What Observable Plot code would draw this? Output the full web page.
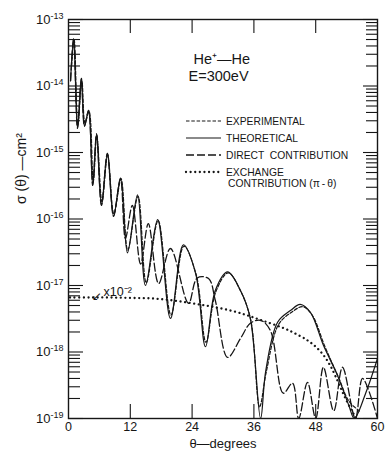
<!DOCTYPE html>
<html><head><meta charset="utf-8">
<script src="https://cdn.jsdelivr.net/npm/d3@7"></script>
<script src="https://cdn.jsdelivr.net/npm/@observablehq/plot@0.6"></script>
<style>
html,body{margin:0;padding:0;background:#fff;}
#wrap{position:relative;width:386px;height:458px;font-family:"Liberation Sans",Arial,sans-serif;}
#wrap svg{display:block;}
#legend{position:absolute;left:0;top:0;pointer-events:none;}
</style></head><body><div id="wrap"></div>
<script>
// Theoretical (solid)
const thetaTheo = [0.4,1.0,1.75,2.5,3.1,3.9,4.7,5.45,6.4,7.55,8.75,10.1,11.45,13.4,14.95,17.3,19.8,22.3,24.7,26.6,28.5,30.9,33.4,35.3,37.3,38.3,40.6,43.1,45.0,47.0,49.5,52.2,54.4,55.5,57.7,60];
const sigmaTheo = [1.2e-14,5.2e-14,2.3e-15,1.3e-14,2.5e-15,4.3e-15,3.2e-16,1.9e-15,1.6e-16,9.7e-16,1.1e-16,4.1e-16,3.1e-17,2.3e-16,1.0e-17,9.8e-17,3.2e-18,4.1e-17,1.5e-17,1.2e-18,8.4e-18,1.6e-17,8.4e-18,3.2e-18,1e-19,5.2e-19,2.8e-18,4.2e-18,5.2e-18,3.9e-18,1.26e-18,4.5e-19,1.6e-19,1e-19,2.4e-19,8e-19];
// Experimental (short dashes)
const thetaExp = [0.6,1.1,1.8,2.6,3.2,4.0,4.8,5.5,6.5,7.6,8.8,10.2,11.5,13.5,15.1,17.4,19.9,22.4,24.8,26.7,28.6,31.0,33.5,35.4,37.1,38.4,40.8,43.4,45.5,47.3,49.8,52.4,54.5,56.5];
const sigmaExp = [2.0e-14,5.0e-14,2.6e-15,1.2e-14,2.8e-15,4.1e-15,3.6e-16,1.8e-15,1.8e-16,9.2e-16,1.2e-16,4.0e-16,3.4e-17,2.2e-16,1.1e-17,9.5e-17,3.6e-18,3.9e-17,1.45e-17,1.4e-18,8.0e-18,1.55e-17,8.0e-18,3.0e-18,1.5e-19,5.0e-19,2.6e-18,4.0e-18,4.8e-18,3.6e-18,1.2e-18,4.2e-19,1.8e-19,1.3e-19];
// Direct contribution (long dashes)
const thetaDirect = [0.4,1.0,1.75,2.5,3.1,3.9,4.7,5.45,6.4,7.55,8.75,10.1,11.05,12.4,14.0,15.5,17.5,19.8,23.3,25.0,27.2,28.5,30.9,33.4,35.3,37.3,39.2,41.7,43.5,44.7,46.4,48.0,49.5,51.5,53.2,55.7,57.1,60];
const sigmaDirect = [1.2e-14,5.2e-14,2.3e-15,1.3e-14,2.5e-15,4.3e-15,3.2e-16,1.9e-15,1.6e-16,9.7e-16,1.1e-16,4.1e-16,5.1e-17,1.6e-16,2.1e-17,8.5e-17,1.07e-17,3.6e-17,5.4e-18,1.3e-17,1.27e-17,6e-18,8.3e-19,1.6e-18,2.7e-18,3e-18,2.1e-18,2.4e-19,3.4e-19,1e-19,3.5e-19,1e-19,5.9e-19,1.3e-19,5.9e-19,1e-19,4e-19,1e-19];
// Exchange contribution (dotted, x10^-2)
const thetaExch = [0.3,4,8,12,16,20,24,28,32,35,38,41.7,44,46.4,48,49.5,50.7,51.8,53.2,54.8,55.9];
const sigmaExch = [6.6e-18,6.6e-18,6.6e-18,6.5e-18,6.4e-18,6.0e-18,5.4e-18,4.8e-18,4.1e-18,3.5e-18,2.9e-18,2.3e-18,1.9e-18,1.5e-18,1.2e-18,9e-19,6.5e-19,4.4e-19,2.5e-19,1.4e-19,1e-19];

const xTickLabels = [0,12,24,36,48,60];
const xInnerTicks = [12,24,36,48];
const decadeExps = [-19,-18,-17,-16,-15,-14,-13];
const legendLabels = ["EXPERIMENTAL","THEORETICAL","DIRECT  CONTRIBUTION","EXCHANGE","CONTRIBUTION (\u03c0\u2009-\u2009\u03b8)"];

const zip = (t, s) => t.map((v, i) => ({theta: v, sigma: s[i]}));
const theo = zip(thetaTheo, sigmaTheo);
const expt = zip(thetaExp, sigmaExp);
const direct = zip(thetaDirect, sigmaDirect);
const exch = zip(thetaExch, sigmaExch);

const decades = decadeExps.map(e => Math.pow(10, e));
const minors = [];
for (let e = -19; e < -13; e++) for (let m = 2; m <= 9; m++) minors.push(m * Math.pow(10, e));

const ink = "#161616";
const noText = () => "";
const plot = Plot.plot({
  width: 386, height: 458,
  marginLeft: 68, marginRight: 9, marginTop: 19, marginBottom: 40,
  style: {fontFamily: "Liberation Sans, Arial, sans-serif", background: "#fff", color: ink, overflow: "visible"},
  x: {domain: [0, 60]},
  y: {type: "log", domain: [1e-19, 1e-13]},
  marks: [
    // inner ticks
    Plot.axisY(decades, {anchor: "left", tickSize: 15, dx: 15, tickFormat: noText, label: null, strokeWidth: 1.1}),
    Plot.axisY(minors, {anchor: "left", tickSize: 12, dx: 12, tickFormat: noText, label: null, strokeWidth: 1.1}),
    Plot.axisY(decades, {anchor: "right", tickSize: 15, dx: -15, tickFormat: noText, label: null, strokeWidth: 1.1}),
    Plot.axisY(minors, {anchor: "right", tickSize: 12, dx: -12, tickFormat: noText, label: null, strokeWidth: 1.1}),
    Plot.axisX(xInnerTicks, {anchor: "bottom", tickSize: 14, dy: -14, tickFormat: noText, label: null, strokeWidth: 1.1}),
    Plot.axisX(xInnerTicks, {anchor: "top", tickSize: 13, dy: 13, tickFormat: noText, label: null, strokeWidth: 1.1}),
    // tick labels
    Plot.axisY(decades, {anchor: "left", tickSize: 0, tickPadding: 5, fontSize: 13, label: null,
      tickFormat: d => "10^" + Math.round(Math.log10(d))}),
    Plot.axisX(xTickLabels, {anchor: "bottom", tickSize: 0, tickPadding: 4, fontSize: 12.5, label: null, tickFormat: d => String(d)}),
    // curves
    Plot.line(exch, {x: "theta", y: "sigma", curve: "catmull-rom", stroke: ink, strokeWidth: 2.3,
      strokeLinecap: "round", strokeDasharray: "0.01,4.6", clip: true}),
    Plot.line(direct, {x: "theta", y: "sigma", curve: "catmull-rom", stroke: ink, strokeWidth: 1.3,
      strokeDasharray: "8,3", clip: true}),
    Plot.line(expt, {x: "theta", y: "sigma", curve: "catmull-rom", stroke: ink, strokeWidth: 1.2,
      strokeDasharray: "3.5,1.8", clip: true}),
    Plot.line(theo, {x: "theta", y: "sigma", curve: "catmull-rom", stroke: ink, strokeWidth: 1.2, clip: true}),
    Plot.frame({stroke: ink, strokeWidth: 1.4}),
    // texts
    Plot.text(["He\u207a\u2014He"], {frameAnchor: "top-left", dx: 125, dy: 34, textAnchor: "start", fontSize: 14.5}),
    Plot.text(["E=300eV"], {frameAnchor: "top-left", dx: 120, dy: 51, textAnchor: "start", fontSize: 14.5}),
    Plot.text(["x10\u207b\u00b2"], {frameAnchor: "top-left", dx: 35, dy: 268, textAnchor: "start", fontSize: 12.5}),
    Plot.text(["\u2199"], {frameAnchor: "top-left", dx: 23, dy: 272, textAnchor: "start", fontSize: 12, fontFamily: "DejaVu Sans"}),
    Plot.text(["\u03c3 (\u03b8) \u2014cm\u00b2"], {frameAnchor: "left", dx: -47, dy: -15, rotate: -90, fontSize: 14}),
    Plot.text(["\u03b8\u2014degrees"], {frameAnchor: "bottom", dy: 29.5, fontSize: 13})
  ]
});

// superscript exponents on y tick labels
d3.select(plot).selectAll('g[aria-label="y-axis tick label"] text').each(function() {
  const m = this.textContent.match(/^10\^(.+)$/);
  if (m) {
    this.textContent = "10";
    const ts = document.createElementNS("http://www.w3.org/2000/svg", "tspan");
    ts.setAttribute("dy", "-0.55em");
    ts.setAttribute("font-size", "9");
    ts.textContent = m[1];
    this.appendChild(ts);
  }
});

const wrap = document.getElementById("wrap");
wrap.appendChild(plot);

// legend overlay
const dashes = ["3.5,1.8", null, "8,3", "0.01,4.6"];
const widths = [1.2, 1.2, 1.3, 2.3];
const rowsY = [121, 138, 155, 172];
const lg = d3.select(wrap).append("svg").attr("id", "legend").attr("width", 386).attr("height", 458);
rowsY.forEach((y, i) => {
  lg.append("line").attr("x1", 186).attr("x2", 221).attr("y1", y).attr("y2", y)
    .attr("stroke", ink).attr("stroke-width", widths[i])
    .attr("stroke-dasharray", dashes[i]).attr("stroke-linecap", i === 3 ? "round" : "butt");
});
legendLabels.forEach((t, i) => {
  const y = i < 4 ? rowsY[i] : 183.5;
  lg.append("text").attr("x", i < 4 ? 226 : 228).attr("y", y).attr("dy", "0.36em")
    .attr("font-size", 10.3).attr("fill", ink).attr("xml:space", "preserve")
    .style("white-space", "pre").text(t);
});
</script>
</body></html>
